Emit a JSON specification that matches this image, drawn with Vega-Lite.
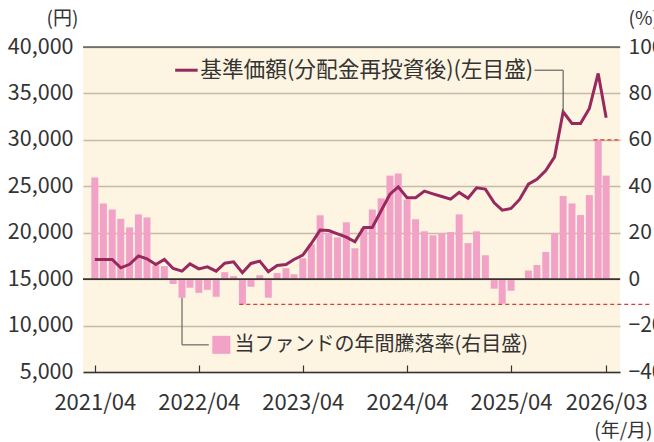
{
  "$schema": "https://vega.github.io/schema/vega-lite/v6.json",
  "width": 537,
  "height": 325,
  "autosize": {"type": "none"},
  "padding": {"left": 83, "top": 47, "right": 34, "bottom": 70},
  "background": "white",
  "config": {
    "font": "Noto Sans CJK JP",
    "view": {"fill": "#fdf5e1", "stroke": null},
    "axis": {
      "labelFont": "Noto Sans CJK JP",
      "labelFontSize": 21,
      "labelColor": "#333333",
      "titleFont": "Noto Sans CJK JP",
      "titleFontSize": 19,
      "titleColor": "#333333",
      "titleFontWeight": "normal"
    }
  },
  "datasets": {
    "main": [
      {"date": "2021-04-01", "pct": 43.8, "yen": 17120},
      {"date": "2021-05-01", "pct": 32.6, "yen": 17120},
      {"date": "2021-06-01", "pct": 30.0, "yen": 17120},
      {"date": "2021-07-01", "pct": 26.0, "yen": 16220},
      {"date": "2021-08-01", "pct": 22.3, "yen": 16600},
      {"date": "2021-09-01", "pct": 27.9, "yen": 17500},
      {"date": "2021-10-01", "pct": 26.6, "yen": 17190},
      {"date": "2021-11-01", "pct": 6.0, "yen": 16580},
      {"date": "2021-12-01", "pct": 5.6, "yen": 17120},
      {"date": "2022-01-01", "pct": -2.1, "yen": 16150},
      {"date": "2022-02-01", "pct": -8.0, "yen": 15860},
      {"date": "2022-03-01", "pct": -3.7, "yen": 16650},
      {"date": "2022-04-01", "pct": -5.9, "yen": 16110},
      {"date": "2022-05-01", "pct": -4.6, "yen": 16330},
      {"date": "2022-06-01", "pct": -7.6, "yen": 15860},
      {"date": "2022-07-01", "pct": 3.0, "yen": 16720},
      {"date": "2022-08-01", "pct": 1.3, "yen": 16870},
      {"date": "2022-09-01", "pct": -10.9, "yen": 15690},
      {"date": "2022-10-01", "pct": -3.3, "yen": 16690},
      {"date": "2022-11-01", "pct": 1.7, "yen": 16940},
      {"date": "2022-12-01", "pct": -8.0, "yen": 15790},
      {"date": "2023-01-01", "pct": 2.6, "yen": 16470},
      {"date": "2023-02-01", "pct": 4.7, "yen": 16580},
      {"date": "2023-03-01", "pct": 2.1, "yen": 17120},
      {"date": "2023-04-01", "pct": 9.0, "yen": 17580},
      {"date": "2023-05-01", "pct": 15.0, "yen": 18840},
      {"date": "2023-06-01", "pct": 27.5, "yen": 20280},
      {"date": "2023-07-01", "pct": 19.9, "yen": 20240},
      {"date": "2023-08-01", "pct": 18.0, "yen": 19880},
      {"date": "2023-09-01", "pct": 24.5, "yen": 19520},
      {"date": "2023-10-01", "pct": 13.3, "yen": 19020},
      {"date": "2023-11-01", "pct": 22.0, "yen": 20570},
      {"date": "2023-12-01", "pct": 30.0, "yen": 20570},
      {"date": "2024-01-01", "pct": 34.8, "yen": 22360},
      {"date": "2024-02-01", "pct": 44.6, "yen": 24150},
      {"date": "2024-03-01", "pct": 45.5, "yen": 24940},
      {"date": "2024-04-01", "pct": 34.3, "yen": 23760},
      {"date": "2024-05-01", "pct": 25.8, "yen": 23760},
      {"date": "2024-06-01", "pct": 20.6, "yen": 24480},
      {"date": "2024-07-01", "pct": 18.9, "yen": 24190},
      {"date": "2024-08-01", "pct": 19.7, "yen": 23900},
      {"date": "2024-09-01", "pct": 20.3, "yen": 23620},
      {"date": "2024-10-01", "pct": 27.9, "yen": 24340},
      {"date": "2024-11-01", "pct": 15.5, "yen": 23720},
      {"date": "2024-12-01", "pct": 20.6, "yen": 24830},
      {"date": "2025-01-01", "pct": 10.3, "yen": 24700},
      {"date": "2025-02-01", "pct": -4.1, "yen": 23220},
      {"date": "2025-03-01", "pct": -10.6, "yen": 22430},
      {"date": "2025-04-01", "pct": -5.0, "yen": 22610},
      {"date": "2025-05-01", "pct": 0.0, "yen": 23580},
      {"date": "2025-06-01", "pct": 3.7, "yen": 25230},
      {"date": "2025-07-01", "pct": 6.1, "yen": 25740},
      {"date": "2025-08-01", "pct": 11.7, "yen": 26700},
      {"date": "2025-09-01", "pct": 19.8, "yen": 28170},
      {"date": "2025-10-01", "pct": 35.8, "yen": 33020},
      {"date": "2025-11-01", "pct": 32.6, "yen": 31770},
      {"date": "2025-12-01", "pct": 27.6, "yen": 31770},
      {"date": "2026-01-01", "pct": 36.2, "yen": 33380},
      {"date": "2026-02-01", "pct": 60.0, "yen": 37150},
      {"date": "2026-03-01", "pct": 44.6, "yen": 32370}
    ],
    "refs": [
      {"pct": 0, "yen": 40000}
    ],
    "extremes": [
      {"x": "2026-01-15", "x2": "2026-04-24", "y": 60},
      {"x": "2022-08-21", "x2": "2026-07-31", "y": -10.9}
    ],
    "barLeaders": [
      {"x": "2022-02-01", "x2": "2022-02-01", "y": -8.0, "y2": -28.3},
      {"x": "2022-02-01", "x2": "2022-05-06", "y": -28.3, "y2": -28.3}
    ],
    "barLegend": [
      {"x": "2022-06-19", "y": -28.3, "label": "当ファンドの年間騰落率(右目盛)", "tx": "2022-08-04"}
    ],
    "lineLeaders": [
      {"x": "2025-06-22", "x2": "2025-10-01", "y": 37500, "y2": 37500},
      {"x": "2025-10-01", "x2": "2025-10-01", "y": 37500, "y2": 33020}
    ],
    "lineLegend": [
      {"x": "2022-01-08", "x2": "2022-03-28", "y": 37500, "tx": "2022-04-06", "label": "基準価額(分配金再投資後)(左目盛)"}
    ]
  },
  "layer": [
    {
      "data": {"name": "main"},
      "mark": {"type": "bar", "width": 7, "color": "#f2a2c6"},
      "encoding": {
        "x": {
          "field": "date", "type": "temporal",
          "scale": {"type": "utc", "domain": [{"year": 2021, "month": 3, "date": 8, "utc": true}, {"year": 2026, "month": 4, "date": 1, "utc": true}]},
          "axis": {
            "values": [
              {"year": 2021, "month": 4, "date": 1, "utc": true},
              {"year": 2022, "month": 4, "date": 1, "utc": true},
              {"year": 2023, "month": 4, "date": 1, "utc": true},
              {"year": 2024, "month": 4, "date": 1, "utc": true},
              {"year": 2025, "month": 4, "date": 1, "utc": true},
              {"year": 2026, "month": 3, "date": 1, "utc": true}
            ],
            "format": "%Y/%m",
            "grid": false,
            "tickSize": -7,
            "tickColor": "#333333",
            "tickWidth": 1.2,
            "domainColor": "#333333",
            "domainWidth": 1.5,
            "labelFontSize": 22,
            "labelPadding": 27,
            "labelFlush": false,
            "labelOverlap": false,
            "labelBound": false,
            "title": "(年/月)",
            "titleX": 569,
            "titleY": 58,
            "titleAlign": "right",
            "titleBaseline": "middle",
            "titleAngle": 0
          }
        },
        "y": {
          "field": "pct", "type": "quantitative",
          "scale": {"domain": [-40, 100], "nice": false, "zero": false},
          "axis": {
            "orient": "right",
            "values": [-40, -20, 0, 20, 40, 60, 80, 100],
            "format": ".0f",
            "grid": true,
            "gridColor": "#c4bba8",
            "gridWidth": 1.5,
            "domain": false,
            "ticks": false,
            "labelPadding": 8,
            "labelBaseline": "middle",
            "title": "(%)",
            "titleAngle": 0,
            "titleX": 8,
            "titleY": -29,
            "titleAlign": "left",
            "titleBaseline": "middle"
          }
        }
      }
    },
    {
      "data": {"name": "refs"},
      "mark": {"type": "rule", "color": "#3a3232", "strokeWidth": 1.6},
      "encoding": {
        "y": {"field": "pct", "type": "quantitative", "scale": {"domain": [-40, 100], "nice": false, "zero": false}, "axis": null}
      }
    },
    {
      "data": {"name": "extremes"},
      "mark": {"type": "rule", "color": "#e23a3a", "strokeWidth": 1.2, "strokeDash": [4, 3]},
      "encoding": {
        "x": {"field": "x", "type": "temporal"},
        "x2": {"field": "x2"},
        "y": {"field": "y", "type": "quantitative", "scale": {"domain": [-40, 100], "nice": false, "zero": false}, "axis": null}
      }
    },
    {
      "data": {"name": "barLeaders"},
      "mark": {"type": "rule", "color": "#666666", "strokeWidth": 1.2},
      "encoding": {
        "x": {"field": "x", "type": "temporal"},
        "x2": {"field": "x2"},
        "y": {"field": "y", "type": "quantitative", "scale": {"domain": [-40, 100], "nice": false, "zero": false}, "axis": null},
        "y2": {"field": "y2"}
      }
    },
    {
      "data": {"name": "barLegend"},
      "mark": {"type": "point", "shape": "square", "size": 324, "filled": true, "color": "#f2a2c6", "opacity": 1},
      "encoding": {
        "x": {"field": "x", "type": "temporal"},
        "y": {"field": "y", "type": "quantitative", "scale": {"domain": [-40, 100], "nice": false, "zero": false}, "axis": null}
      }
    },
    {
      "data": {"name": "barLegend"},
      "mark": {"type": "text", "align": "left", "baseline": "middle", "fontSize": 20, "color": "#333333", "font": "Noto Sans CJK JP"},
      "encoding": {
        "x": {"field": "tx", "type": "temporal"},
        "y": {"field": "y", "type": "quantitative", "scale": {"domain": [-40, 100], "nice": false, "zero": false}, "axis": null},
        "text": {"field": "label"}
      }
    },
    {
      "data": {"name": "main"},
      "mark": {"type": "line", "color": "#97295f", "strokeWidth": 3},
      "encoding": {
        "x": {"field": "date", "type": "temporal"},
        "y": {
          "field": "yen", "type": "quantitative",
          "scale": {"domain": [5000, 40000], "nice": false, "zero": false},
          "axis": {
            "orient": "left",
            "values": [5000, 10000, 15000, 20000, 25000, 30000, 35000, 40000],
            "format": ",.0f",
            "grid": false,
            "domain": false,
            "ticks": false,
            "labelFontSize": 21.5,
            "labelPadding": 10,
            "labelBaseline": "middle",
            "title": "(円)",
            "titleAngle": 0,
            "titleX": -21,
            "titleY": -29,
            "titleAlign": "center",
            "titleBaseline": "middle"
          }
        }
      }
    },
    {
      "data": {"name": "refs"},
      "mark": {"type": "rule", "color": "#222222", "strokeWidth": 1.2},
      "encoding": {
        "y": {"field": "yen", "type": "quantitative", "scale": {"domain": [5000, 40000], "nice": false, "zero": false}, "axis": null}
      }
    },
    {
      "data": {"name": "lineLeaders"},
      "mark": {"type": "rule", "color": "#666666", "strokeWidth": 1.2},
      "encoding": {
        "x": {"field": "x", "type": "temporal"},
        "x2": {"field": "x2"},
        "y": {"field": "y", "type": "quantitative", "scale": {"domain": [5000, 40000], "nice": false, "zero": false}, "axis": null},
        "y2": {"field": "y2"}
      }
    },
    {
      "data": {"name": "lineLegend"},
      "mark": {"type": "rule", "color": "#97295f", "strokeWidth": 3},
      "encoding": {
        "x": {"field": "x", "type": "temporal"},
        "x2": {"field": "x2"},
        "y": {"field": "y", "type": "quantitative", "scale": {"domain": [5000, 40000], "nice": false, "zero": false}, "axis": null}
      }
    },
    {
      "data": {"name": "lineLegend"},
      "mark": {"type": "text", "align": "left", "baseline": "middle", "fontSize": 21.7, "color": "#333333", "font": "Noto Sans CJK JP"},
      "encoding": {
        "x": {"field": "tx", "type": "temporal"},
        "y": {"field": "y", "type": "quantitative", "scale": {"domain": [5000, 40000], "nice": false, "zero": false}, "axis": null},
        "text": {"field": "label"}
      }
    }
  ],
  "resolve": {"scale": {"y": "independent"}}
}
